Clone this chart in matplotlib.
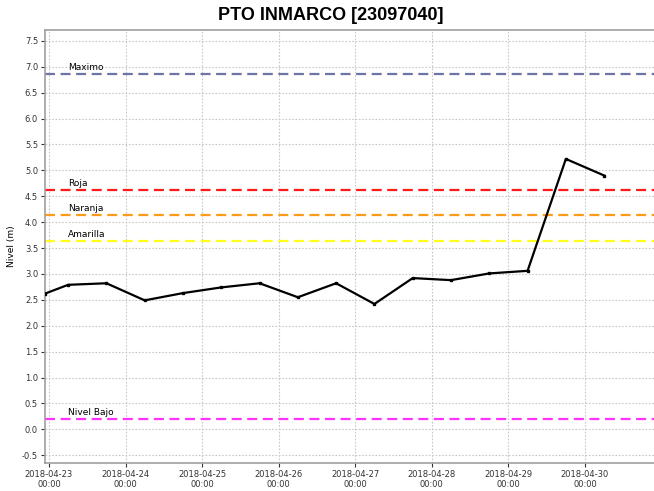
import pandas as pd
import matplotlib
matplotlib.use("Agg")
import matplotlib.pyplot as plt
import matplotlib.dates as mdates
import matplotlib.transforms as mtransforms

# Serie de nivel (m)
fechas = pd.to_datetime([
    "2018-04-22 22:45", "2018-04-23 06:00", "2018-04-23 18:00",
    "2018-04-24 06:00", "2018-04-24 18:00", "2018-04-25 06:00",
    "2018-04-25 18:00", "2018-04-26 06:00", "2018-04-26 18:00",
    "2018-04-27 06:00", "2018-04-27 18:00", "2018-04-28 06:00",
    "2018-04-28 18:00", "2018-04-29 06:00", "2018-04-29 18:00",
    "2018-04-30 06:00",
])
nivel = [2.62, 2.79, 2.82, 2.49, 2.63, 2.74, 2.82, 2.55, 2.82,
         2.42, 2.92, 2.88, 3.01, 3.06, 5.22, 4.90]

# Umbrales
umbral_nombres = ["Maximo", "Roja", "Naranja", "Amarilla", "Nivel Bajo"]
umbral_valores = [6.865, 4.63, 4.14, 3.64, 0.20]
umbral_colores = ["#6b76a6", "#ff1a1a", "#ff9a1a", "#ffff1a", "#ff33ff"]

dias = pd.date_range("2018-04-23", "2018-04-30", freq="D")

fig = plt.figure(figsize=(6.54, 4.91), dpi=100)
ax = fig.add_axes([0.0688, 0.057, 0.931, 0.882])

for nombre, valor, color in zip(umbral_nombres, umbral_valores, umbral_colores):
    ax.axhline(valor, color=color, lw=1.6, ls=(0, (4.5, 2.5)), zorder=2)
    trans = mtransforms.blended_transform_factory(ax.transAxes, ax.transData)
    ax.text(0.038, valor + 0.03, nombre, transform=trans, fontsize=6.5,
            color="black", va="bottom", ha="left", zorder=3)

ax.plot(fechas, nivel, color="black", lw=1.6, marker="s", markersize=2,
        zorder=4, clip_on=True)

ax.set_xlim(pd.Timestamp("2018-04-22 22:45"), pd.Timestamp("2018-04-30 21:35"))
ax.set_ylim(-0.65, 7.71)
ax.set_yticks([x / 2 for x in range(-1, 16)])
ax.yaxis.set_major_formatter(plt.FormatStrFormatter("%.1f"))
ax.set_xticks(dias)
ax.xaxis.set_major_formatter(mdates.DateFormatter("%Y-%m-%d\n%H:%M"))

ax.grid(True, color="#c8c8c8", ls=(0, (1.5, 1.5)), lw=0.8)
ax.tick_params(axis="both", labelsize=6, colors="#333333", length=3,
               width=0.8, pad=2)
for lado in ["top", "left", "bottom"]:
    ax.spines[lado].set_color("#a0a0a0")
    ax.spines[lado].set_linewidth(1.2)
ax.spines["right"].set_visible(False)

ax.set_ylabel("Nivel (m)", fontsize=6.5, labelpad=4)
fig.suptitle("PTO INMARCO [23097040]", fontsize=13, fontweight="bold",
             family="Liberation Sans", x=0.505, y=0.985)

fig.savefig("out.png", dpi=100)
